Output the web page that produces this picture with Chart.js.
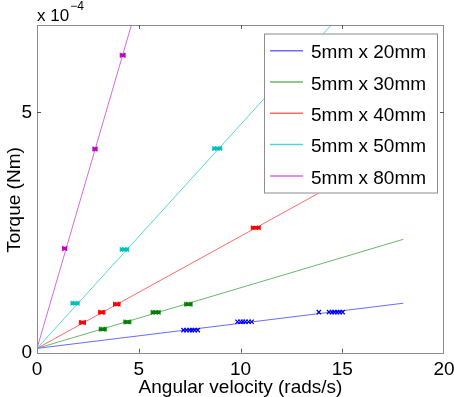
<!DOCTYPE html>
<html>
<head>
<meta charset="utf-8">
<script src="https://cdn.jsdelivr.net/npm/chart.js@4.4.0/dist/chart.umd.min.js"></script>
<style>
  html, body { margin: 0; padding: 0; background: #fff; }
  #wrap { width: 454px; height: 397px; }
</style>
</head>
<body>
<div id="wrap"><canvas id="chart" width="454" height="397"></canvas></div>
<script>
// series (torque in Nm, angular velocity in rad/s)
const seriesNames = ["5mm x 20mm", "5mm x 30mm", "5mm x 40mm", "5mm x 50mm", "5mm x 80mm"];
const lineColors = ["#6b6bff", "#6cb86c", "#ff6b6b", "#55d5d5", "#d56bdf"];
const markColors = ["#0000ff", "#008000", "#ff0000", "#00bfbf", "#bf00bf"];

// fitted lines, drawn from x = 0 to x = 18
const fitX = [0, 18];
const fitStart = [0.09e-4, 0.09e-4, 0.09e-4, 0.09e-4, 0.09e-4];
const fitEnd = [1.03e-4, 2.36e-4, 4.29e-4, 8.47e-4, 26.2e-4];

// measured points with horizontal error
const pointsX = [
  [7.2, 7.35, 7.5, 7.62, 7.75, 7.9, 9.85, 10.0, 10.12, 10.25, 10.4, 10.55, 13.85, 14.35, 14.5, 14.62, 14.75, 14.88, 15.02],
  [3.23, 4.44, 5.83, 7.44],
  [2.23, 3.18, 3.92, 10.75],
  [1.87, 4.29, 8.86],
  [1.36, 2.85, 4.21]
];
const pointsY = [
  [0.47e-4, 0.47e-4, 0.47e-4, 0.47e-4, 0.47e-4, 0.47e-4, 0.645e-4, 0.645e-4, 0.645e-4, 0.645e-4, 0.645e-4, 0.645e-4,
   0.845e-4, 0.845e-4, 0.845e-4, 0.845e-4, 0.845e-4, 0.845e-4, 0.845e-4],
  [0.49e-4, 0.64e-4, 0.84e-4, 1.01e-4],
  [0.63e-4, 0.84e-4, 1.01e-4, 2.60e-4],
  [1.03e-4, 2.15e-4, 4.25e-4],
  [2.17e-4, 4.24e-4, 6.19e-4]
];
const pointsErr = [
  [0, 0, 0, 0, 0, 0, 0, 0, 0, 0, 0, 0, 0, 0, 0, 0, 0, 0, 0],
  [0.17, 0.17, 0.22, 0.18],
  [0.15, 0.15, 0.16, 0.22],
  [0.2, 0.2, 0.22],
  [0.1, 0.1, 0.12]
];

const xTicks = [0, 5, 10, 15, 20];
const yTicks = [0, 5e-4];
const xMax = 20;
const yMax = 6.82e-4;

const FONT = "'Liberation Sans', Arial, Helvetica, sans-serif";

const datasets = [];
seriesNames.forEach((name, i) => {
  datasets.push({
    label: name,
    showLine: true,
    data: fitX.map((x, k) => ({ x: x, y: k === 0 ? fitStart[i] : fitEnd[i] })),
    borderColor: lineColors[i],
    borderWidth: 1,
    pointRadius: 0,
    isFit: true,
    order: 2
  });
});
seriesNames.forEach((name, i) => {
  datasets.push({
    label: name + " data",
    data: pointsX[i].map((x, k) => ({ x: x, y: pointsY[i][k], err: pointsErr[i][k] })),
    borderColor: markColors[i],
    backgroundColor: markColors[i],
    pointStyle: "crossRot",
    pointRadius: 3,
    borderWidth: 1.2,
    order: 1
  });
});

const errorBars = {
  id: "errorBars",
  afterDatasetsDraw(chart) {
    const ctx = chart.ctx;
    const xs = chart.scales.x, ys = chart.scales.y;
    const a = chart.chartArea;
    ctx.save();
    ctx.beginPath();
    ctx.rect(a.left, a.top, a.right - a.left, a.bottom - a.top);
    ctx.clip();
    chart.data.datasets.forEach(ds => {
      if (ds.isFit) return;
      ctx.strokeStyle = ds.borderColor;
      ds.data.forEach(p => {
        if (!p.err) return;
        const x1 = xs.getPixelForValue(p.x - p.err);
        const x2 = xs.getPixelForValue(p.x + p.err);
        const y = ys.getPixelForValue(p.y);
        ctx.lineWidth = 3.5;
        ctx.beginPath();
        ctx.moveTo(x1, y); ctx.lineTo(x2, y);
        ctx.stroke();
        ctx.lineWidth = 1;
        ctx.beginPath();
        ctx.moveTo(x1, y - 2.5); ctx.lineTo(x1, y + 2.5);
        ctx.moveTo(x2, y - 2.5); ctx.lineTo(x2, y + 2.5);
        ctx.stroke();
      });
    });
    ctx.restore();
  }
};

const frame = {
  id: "frame",
  afterDraw(chart) {
    const ctx = chart.ctx;
    const a = chart.chartArea;
    const xs = chart.scales.x, ys = chart.scales.y;
    ctx.save();
    // axes box
    ctx.strokeStyle = "#8c8c8c";
    ctx.lineWidth = 1;
    ctx.strokeRect(Math.round(a.left) + 0.5, Math.round(a.top) + 0.5,
      Math.round(a.right - a.left) - 1, Math.round(a.bottom - a.top));
    // inward ticks on all sides
    ctx.strokeStyle = "#555";
    ctx.beginPath();
    xs.ticks.forEach(t => {
      if (t.value === xs.min || t.value === xs.max) return;
      const px = Math.round(xs.getPixelForValue(t.value)) + 0.5;
      ctx.moveTo(px, a.bottom); ctx.lineTo(px, a.bottom - 4);
      ctx.moveTo(px, a.top); ctx.lineTo(px, a.top + 4);
    });
    ys.ticks.forEach(t => {
      if (t.value === ys.min || t.value === ys.max) return;
      const py = Math.round(ys.getPixelForValue(t.value)) + 0.5;
      ctx.moveTo(a.left, py); ctx.lineTo(a.left + 4, py);
      ctx.moveTo(a.right, py); ctx.lineTo(a.right - 4, py);
    });
    ctx.stroke();

    // axis titles
    ctx.fillStyle = "#000";
    ctx.font = "19px " + FONT;
    ctx.textAlign = "center";
    ctx.textBaseline = "alphabetic";
    ctx.fillText("Angular velocity (rads/s)", (a.left + a.right) / 2, 392.5);
    ctx.save();
    ctx.translate(19.5, 200);
    ctx.rotate(-Math.PI / 2);
    ctx.fillText("Torque (Nm)", 0, 0);
    ctx.restore();

    // exponent
    ctx.textAlign = "left";
    ctx.font = "17px " + FONT;
    ctx.fillText("x 10", 37, 20.5);
    const w = ctx.measureText("x 10").width;
    ctx.font = "12px " + FONT;
    ctx.fillText("\u22124", 37 + w + 1, 9.5);

    // legend
    const lx = 264, ly = 33.5, lw = 174, lh = 160;
    ctx.fillStyle = "#fff";
    ctx.fillRect(lx, ly, lw, lh);
    ctx.strokeStyle = "#8c8c8c";
    ctx.strokeRect(lx + 0.5, ly + 0.5, lw - 1, lh - 1);
    ctx.font = "19px " + FONT;
    chart.data.datasets.filter(d => d.isFit).forEach((d, i) => {
      const yy = 50.7 + i * 31.3;
      ctx.strokeStyle = d.borderColor;
      ctx.lineWidth = 1.5;
      ctx.beginPath();
      ctx.moveTo(270, yy); ctx.lineTo(303, yy);
      ctx.stroke();
      ctx.fillStyle = "#000";
      ctx.fillText(d.label, 311, yy + 7.7);
    });
    ctx.restore();
  }
};

new Chart(document.getElementById("chart"), {
  type: "scatter",
  data: { datasets: datasets },
  options: {
    responsive: false,
    animation: false,
    devicePixelRatio: 1,
    layout: { padding: { top: 25, right: 10, left: 0, bottom: 0 } },
    plugins: { legend: { display: false }, tooltip: { enabled: false } },
    scales: {
      x: {
        type: "linear",
        min: 0, max: xMax,
        grid: { display: false, drawTicks: false },
        border: { display: false },
        afterBuildTicks: s => { s.ticks = xTicks.map(v => ({ value: v })); },
        afterFit: s => {
          s.height = 44.3;
          s.paddingLeft = 0; s.paddingRight = 0; s.paddingTop = 0; s.paddingBottom = 0;
        },
        ticks: {
          color: "#000",
          font: { family: FONT, size: 19 },
          padding: 6,
          maxRotation: 0,
          autoSkip: false,
          callback: v => String(v)
        }
      },
      y: {
        type: "linear",
        min: 0, max: yMax,
        grid: { display: false, drawTicks: false },
        border: { display: false },
        afterBuildTicks: s => { s.ticks = yTicks.map(v => ({ value: v })); },
        afterFit: s => {
          s.width = 37;
          s.paddingLeft = 0; s.paddingRight = 0; s.paddingTop = 0; s.paddingBottom = 0;
        },
        ticks: {
          color: "#000",
          font: { family: FONT, size: 19 },
          padding: 5,
          autoSkip: false,
          callback: v => String(Math.round(v * 1e4))
        }
      }
    }
  },
  plugins: [errorBars, frame]
});
</script>
</body>
</html>
